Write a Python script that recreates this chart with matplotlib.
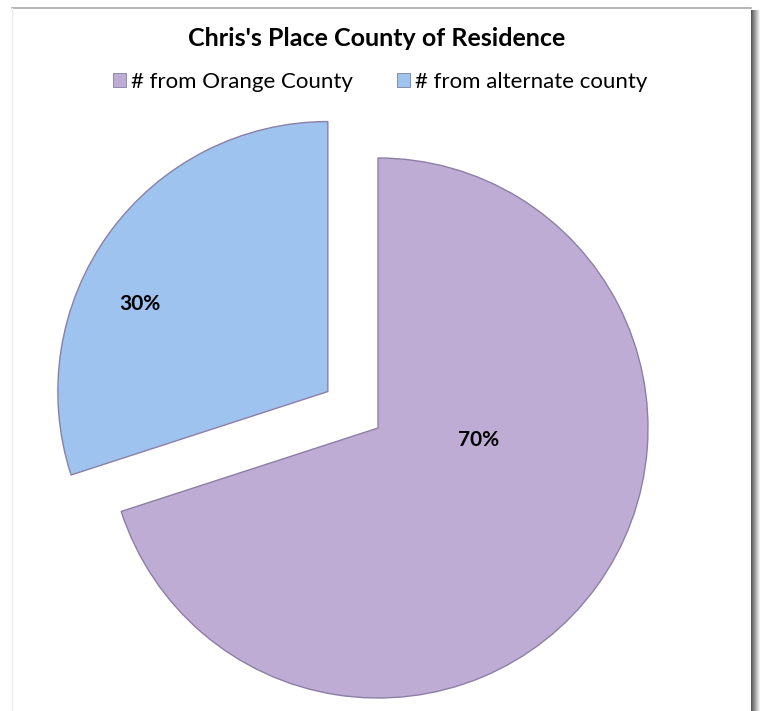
import matplotlib

matplotlib.use("Agg")  # headless
import matplotlib.pyplot as plt
from matplotlib.patches import Rectangle, Patch

# data
labels = ["# from Orange County", "# from alternate county"]
shares = [70, 30]
colors = ["#BEACD4", "#9EC3EE"]
title = "Chris's Place County of Residence"

W, H = 761, 711
plt.rcParams["font.family"] = ["Lato", "DejaVu Sans"]

fig = plt.figure(figsize=(W / 100, H / 100), dpi=100)
ax = fig.add_axes([0, 0, 1, 1])

# chart frame with right-hand shadow
for i in range(9):
    g = 0.35 + i * 0.075
    ax.add_patch(Rectangle((751 + i, 0), 1.2, H - 10, fc=(g, g, g), ec="none", zorder=0))
ax.add_patch(Rectangle((12, -5), 739, H - 2, fc="white", ec="none", zorder=1))
ax.plot([12, 751], [H - 7.5, H - 7.5], color="#a8a8a8", lw=1.2, zorder=2)
ax.plot([12, 12], [0, H - 8], color="#ececec", lw=1.0, zorder=2)

# pie, exploded blue slice
wedges, texts, autotexts = ax.pie(
    shares,
    colors=colors,
    center=(378, H - 428),
    radius=270,
    startangle=90,
    counterclock=False,
    explode=[0, 62],
    autopct="%d%%",
    pctdistance=0.64,
    frame=True,
    wedgeprops=dict(edgecolor="#8c7fa6", linewidth=1.0),
    textprops=dict(fontsize=15, fontweight="bold", color="black"),
)
for w in wedges:
    w.set_zorder(3)
for t in autotexts:
    t.set_zorder(4)
ax.set_xlim(0, W)
ax.set_ylim(0, H)
ax.set_aspect("equal")
ax.axis("off")
# Excel-like label placement
autotexts[0].set_position((479, H - 440))
autotexts[1].set_position((140, H - 304))

ax.text(W / 2 - 4, H - 38, title, ha="center", va="center",
        fontsize=18, fontweight="bold", zorder=5)

handles = [Patch(fc=c, ec="#7f7f9f", lw=0.6) for c in colors]
fig.legend(
    handles,
    labels,
    loc="center",
    bbox_to_anchor=(380 / W, 1 - 82 / H),
    ncol=2,
    frameon=False,
    fontsize=16,
    handlelength=0.6,
    handleheight=0.6,
    handletextpad=0.2,
    columnspacing=2.0,
)

fig.savefig("out.png", dpi=100)
plt.close(fig)
